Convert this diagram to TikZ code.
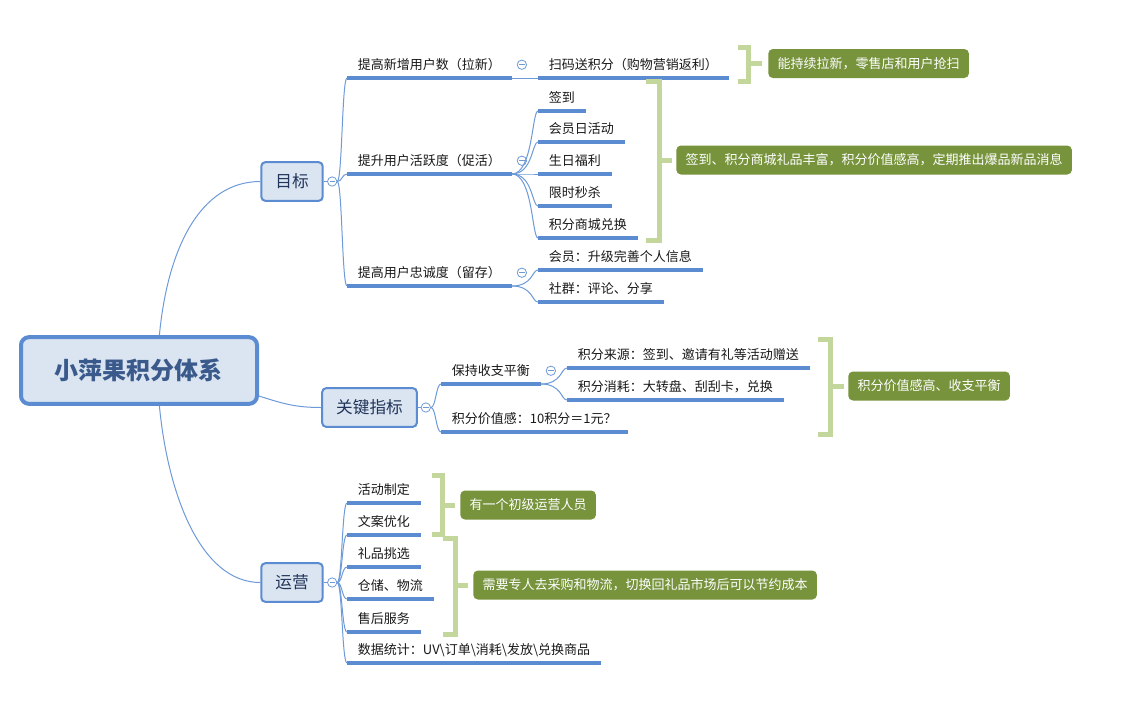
\documentclass[tikz,border=0pt]{standalone}
\usepackage{fontspec}
\setmainfont{Noto Sans CJK SC}
\usetikzlibrary{calc}
\definecolor{mmblue}{HTML}{5B8BD0}
\definecolor{mmthin}{HTML}{6E9AD8}
\definecolor{mmfill}{HTML}{DBE5F1}
\definecolor{mmnavy}{HTML}{22355A}
\definecolor{mmroot}{HTML}{3A5A8C}
\definecolor{mmolive}{HTML}{77933C}
\definecolor{mmbrace}{HTML}{C3D69B}
\tikzset{
  mindfig/.style={x=0.75pt,y=-0.75pt},
  rootnode/.style={draw=mmblue,line width=3pt,fill=mmfill,rounded corners=6pt,
    minimum width=177pt,minimum height=50pt,text=mmroot,
    font=\fontsize{18}{22}\selectfont\bfseries},
  topicnode/.style={draw=mmblue,line width=1.5pt,fill=mmfill,rounded corners=3pt,
    inner xsep=10.5pt,minimum height=29pt,text=mmnavy,
    font=\fontsize{12.5}{15}\selectfont},
  leaf/.style={anchor=south west,inner xsep=8pt,inner ysep=0pt,
    minimum height=19.5pt,text height=0.88em,text depth=0.12em,
    text=black!90,font=\fontsize{9.75}{12}\selectfont},
  uline/.style={draw=mmblue,line width=2.4pt},
  twig/.style={draw=mmthin,line width=0.75pt},
  fold/.style={circle,draw=mmthin,fill=white,line width=0.6pt,minimum size=7pt,
    inner sep=0pt,path picture={\draw[mmthin,line width=0.6pt]
      ([xshift=-2pt]path picture bounding box.center) --
      ([xshift=2pt]path picture bounding box.center);}},
  callout/.style={anchor=west,fill=mmolive,text=white,rounded corners=3.5pt,
    inner xsep=7pt,minimum height=21.75pt,font=\fontsize{9.75}{12}\selectfont},
  brace/.style={draw=mmbrace,line width=3.75pt},
}
\begin{document}
\begin{tikzpicture}[mindfig]
  \fill[white] (0,0) rectangle (1122,726);
  \useasboundingbox (0,0) rectangle (1122,726);

  \node[rootnode] (root) at (139,370.5) {小萍果积分体系};
  \node[topicnode] (t1) at (292,181.5) {目标};
  \node[topicnode] (t2) at (369.5,407.5) {关键指标};
  \node[topicnode] (t3) at (292,582.5) {运营};
  \draw[twig] (root.60) .. controls +(8,-85) and +(-61,0) .. (t1.west);
  \draw[twig] (root.-12) .. controls +(25,8) and +(-25,0) .. (t2.west);
  \draw[twig] (root.-60) .. controls +(8,85) and +(-61,0) .. (t3.west);

  \node[leaf] (g1) at (347,78) {提高新增用户数（拉新）};
  \node[leaf] (g2) at (347,174) {提升用户活跃度（促活）};
  \node[leaf] (g3) at (347,286) {提高用户忠诚度（留存）};
  \node[leaf] (g1a) at (538,78) {扫码送积分（购物营销返利）};
  \node[leaf] (g2a) at (538,111) {签到};
  \node[leaf] (g2b) at (538,142) {会员日活动};
  \node[leaf] (g2c) at (538,174) {生日福利};
  \node[leaf] (g2d) at (538,206) {限时秒杀};
  \node[leaf] (g2e) at (538,238) {积分商城兑换};
  \node[leaf] (g3a) at (538,270) {会员：升级完善个人信息};
  \node[leaf] (g3b) at (538,302) {社群：评论、分享};

  \node[leaf] (k1) at (441,384) {保持收支平衡};
  \node[leaf] (k2) at (441,432) {积分价值感：10积分＝1元？};
  \node[leaf] (k1a) at (567,368) {积分来源：签到、邀请有礼等活动赠送};
  \node[leaf] (k1b) at (567,400) {积分消耗：大转盘、刮刮卡，兑换};

  \node[leaf] (o1) at (347,503) {活动制定};
  \node[leaf] (o2) at (347,535) {文案优化};
  \node[leaf] (o3) at (347,567) {礼品挑选};
  \node[leaf] (o4) at (347,599) {仓储、物流};
  \node[leaf] (o5) at (347,632) {售后服务};
  \node[leaf] (o6) at (347,663) {数据统计：UV\textbackslash 订单\textbackslash 消耗\textbackslash 发放\textbackslash 兑换商品};

  \foreach \n in {g1,g2,g3,g1a,g2a,g2b,g2c,g2d,g2e,g3a,g3b,k1,k2,k1a,k1b,o1,o2,o3,o4,o5,o6}
    \draw[uline] (\n.south west) -- (\n.south east);

  \node[fold] (t1f) at ($(t1.east)+(8.5,0)$) {};
  \node[fold] (t2f) at ($(t2.east)+(8,0)$) {};
  \node[fold] (t3f) at ($(t3.east)+(8.5,0)$) {};
  \node[fold] (g1f) at ($(g1.east)+(10,0)$) {};
  \node[fold] (g2f) at ($(g2.east)+(10,0)$) {};
  \node[fold] (g3f) at ($(g3.east)+(10,0)$) {};
  \node[fold] (k1f) at ($(k1.east)+(10,0)$) {};
  \draw[twig] (t1) -- (t1f);
  \draw[twig] (t2) -- (t2f);
  \draw[twig] (t3) -- (t3f);

  \foreach \n in {g1,g2,g3}
    \draw[twig] (t1f.east) .. controls +(5,0) and +(-5,0) .. (\n.south west);
  \foreach \n in {k1,k2}
    \draw[twig] (t2f.east) .. controls +(5,0) and +(-5,0) .. (\n.south west);
  \foreach \n in {o1,o2,o3,o4,o5,o6}
    \draw[twig] (t3f.east) .. controls +(5,0) and +(-5,0) .. (\n.south west);
  \draw[twig] (g1.south east) -- (g1a.south west);
  \foreach \n in {g2a,g2b,g2c,g2d,g2e}
    \draw[twig] (g2.south east) .. controls +(21,0) and +(-6,0) .. (\n.south west);
  \foreach \n in {g3a,g3b}
    \draw[twig] (g3.south east) .. controls +(21,0) and +(-6,0) .. (\n.south west);
  \foreach \n in {k1a,k1b}
    \draw[twig] (k1.south east) .. controls +(21,0) and +(-6,0) .. (\n.south west);

  \node[callout] (c1) at (768,63.5) {能持续拉新，零售店和用户抢扫};
  \node[callout] (c2) at (676,160) {签到、积分商城礼品丰富，积分价值感高，定期推出爆品新品消息};
  \node[callout] (c3) at (848,386) {积分价值感高、收支平衡};
  \node[callout] (c4) at (460,505) {有一个初级运营人员};
  \node[callout] (c5) at (473,585) {需要专人去采购和物流，切换回礼品市场后可以节约成本};

  \draw[brace] (738,47.5) -- (748.5,47.5) -- (748.5,81) -- (738,81);
  \draw[brace] (748.5,63.5) -- ($(c1.west)+(-6,0)$);
  \draw[brace] (646,81) -- (659.5,81) -- (659.5,240) -- (646,240);
  \draw[brace] (659.5,160) -- ($(c2.west)+(-4,0)$);
  \draw[brace] (818,339.5) -- (830.5,339.5) -- (830.5,434) -- (818,434);
  \draw[brace] (830.5,386) -- ($(c3.west)+(-4,0)$);
  \draw[brace] (432,475) -- (442.5,475) -- (442.5,534) -- (432,534);
  \draw[brace] (442.5,505) -- ($(c4.west)+(-5,0)$);
  \draw[brace] (443,538.5) -- (455.5,538.5) -- (455.5,634) -- (443,634);
  \draw[brace] (455.5,585) -- ($(c5.west)+(-5,0)$);
\end{tikzpicture}
\end{document}
